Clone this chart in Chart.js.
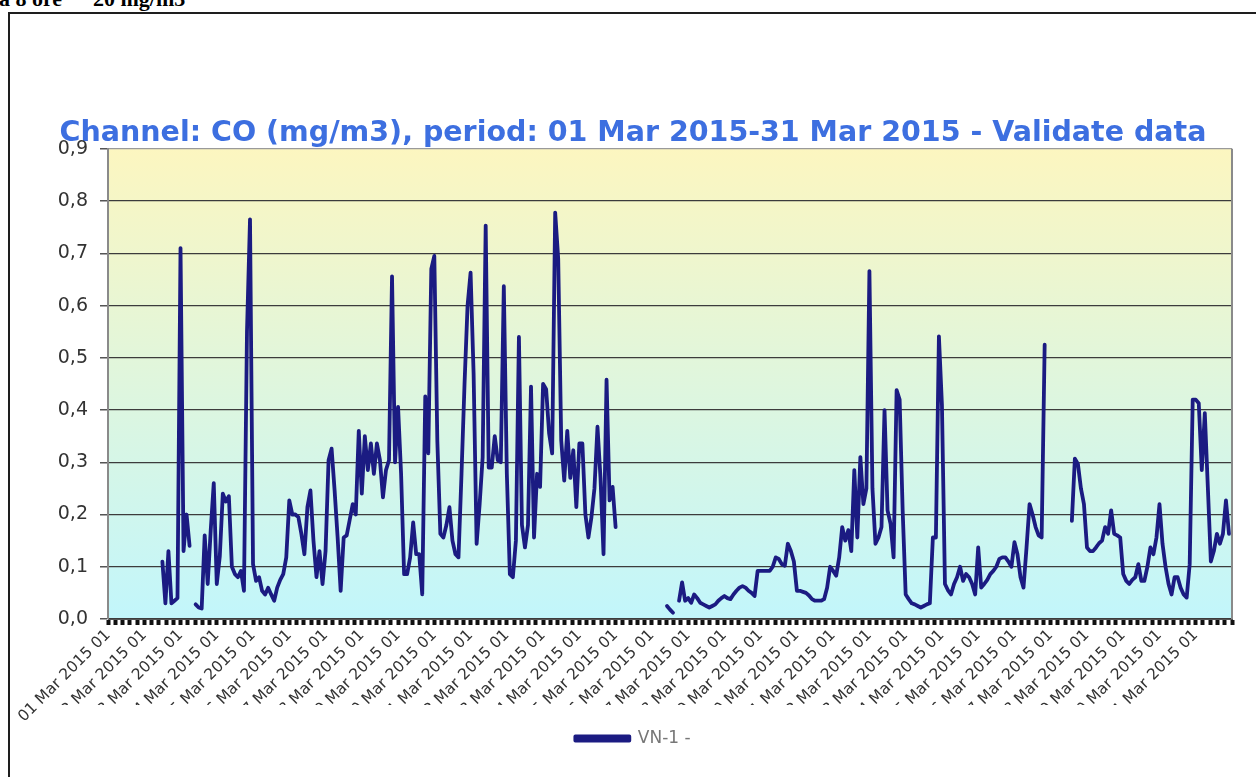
<!DOCTYPE html>
<html>
<head>
<meta charset="utf-8">
<title>CO (mg/m3) - VN-1 - Mar 2015</title>
<script src="https://cdn.jsdelivr.net/npm/chart.js@4.4.1/dist/chart.umd.min.js"></script>
<style>
  html, body { margin: 0; padding: 0; background: #fff; overflow: hidden; }
  body { width: 1256px; height: 777px; position: relative; }
  .cut { position: absolute; top: -12px; font: bold 22px "Liberation Serif", "Times New Roman", serif; line-height: 22px; color: #000; white-space: pre; }
  #frame { position: absolute; left: 8px; top: 12px; width: 1262px; height: 780px; border: 2px solid #1e1e1e; box-sizing: border-box; }
  #chart { position: absolute; left: 10px; top: 14px; }
</style>
</head>
<body>
<div class="cut" style="left:-1px">a 8 ore</div>
<div class="cut" style="left:93px">20 mg/m3</div>
<div id="frame"></div>
<canvas id="chart" width="1246" height="763"></canvas>
<script>
/* CO (mg/m3), station VN-1, 01-31 Mar 2015, validated 2-hour values */

const dayLabels = [
  '01 Mar 2015 01', '02 Mar 2015 01', '03 Mar 2015 01', '04 Mar 2015 01', '05 Mar 2015 01',
  '06 Mar 2015 01', '07 Mar 2015 01', '08 Mar 2015 01', '09 Mar 2015 01', '10 Mar 2015 01',
  '11 Mar 2015 01', '12 Mar 2015 01', '13 Mar 2015 01', '14 Mar 2015 01', '15 Mar 2015 01',
  '16 Mar 2015 01', '17 Mar 2015 01', '18 Mar 2015 01', '19 Mar 2015 01', '20 Mar 2015 01',
  '21 Mar 2015 01', '22 Mar 2015 01', '23 Mar 2015 01', '24 Mar 2015 01', '25 Mar 2015 01',
  '26 Mar 2015 01', '27 Mar 2015 01', '28 Mar 2015 01', '29 Mar 2015 01', '30 Mar 2015 01',
  '31 Mar 2015 01'
];

const seriesName = 'VN-1 -';
const stepHours = 2; // one value every 2 hours, null = no data

const coValues = [
  null, null, null, null, null, null, null, null, null, null,
  null, null, null, null, null, null, null, null, 0.11, 0.03,
  0.13, 0.03, 0.035, 0.04, 0.71, 0.13, 0.20, 0.14, null, 0.028,
  0.022, 0.02, 0.16, 0.067, 0.17, 0.26, 0.067, 0.12, 0.24, 0.225,
  0.235, 0.10, 0.086, 0.08, 0.092, 0.054, 0.55, 0.765, 0.105, 0.073,
  0.08, 0.054, 0.047, 0.06, 0.047, 0.035, 0.06, 0.075, 0.086, 0.118,
  0.227, 0.2, 0.2, 0.195, 0.163, 0.124, 0.214, 0.246, 0.15, 0.08,
  0.13, 0.067, 0.13, 0.304, 0.326, 0.246, 0.156, 0.054, 0.156, 0.16,
  0.19, 0.22, 0.2, 0.36, 0.24, 0.35, 0.285, 0.336, 0.278, 0.336,
  0.304, 0.233, 0.285, 0.304, 0.656, 0.30, 0.406, 0.278, 0.086, 0.086,
  0.118, 0.185, 0.124, 0.124, 0.047, 0.426, 0.317, 0.67, 0.695, 0.34,
  0.163, 0.156, 0.18, 0.214, 0.15, 0.124, 0.118, 0.278, 0.45, 0.6,
  0.663, 0.47, 0.144, 0.22, 0.31, 0.753, 0.29, 0.29, 0.35, 0.304,
  0.3, 0.637, 0.278, 0.086, 0.08, 0.15, 0.54, 0.18, 0.137, 0.18,
  0.445, 0.156, 0.278, 0.253, 0.45, 0.44, 0.355, 0.317, 0.778, 0.69,
  0.342, 0.265, 0.36, 0.27, 0.323, 0.214, 0.336, 0.336, 0.2, 0.156,
  0.195, 0.25, 0.368, 0.27, 0.124, 0.458, 0.227, 0.253, 0.176, null,
  null, null, null, null, null, null, null, null, null, null,
  null, null, null, null, null, 0.025, 0.018, 0.012, null, 0.035,
  0.07, 0.035, 0.04, 0.031, 0.047, 0.04, 0.031, 0.028, 0.025, 0.022,
  0.025, 0.028, 0.035, 0.04, 0.044, 0.04, 0.038, 0.047, 0.054, 0.06,
  0.063, 0.06, 0.054, 0.05, 0.044, 0.092, 0.092, 0.092, 0.092, 0.092,
  0.1, 0.118, 0.115, 0.105, 0.102, 0.144, 0.13, 0.11, 0.054, 0.054,
  0.052, 0.05, 0.045, 0.038, 0.035, 0.035, 0.035, 0.038, 0.06, 0.1,
  0.092, 0.083, 0.118, 0.176, 0.15, 0.17, 0.13, 0.285, 0.156, 0.31,
  0.22, 0.25, 0.666, 0.25, 0.144, 0.156, 0.176, 0.4, 0.208, 0.182,
  0.118, 0.438, 0.42, 0.208, 0.047, 0.038, 0.03, 0.028, 0.025, 0.022,
  0.025, 0.028, 0.03, 0.156, 0.156, 0.541, 0.41, 0.067, 0.055, 0.047,
  0.067, 0.08, 0.1, 0.073, 0.086, 0.08, 0.067, 0.047, 0.137, 0.06,
  0.067, 0.075, 0.086, 0.092, 0.1, 0.115, 0.118, 0.118, 0.11, 0.1,
  0.147, 0.124, 0.08, 0.06, 0.137, 0.22, 0.2, 0.176, 0.16, 0.156,
  0.525, null, null, null, null, null, null, null, null, 0.188,
  0.307, 0.297, 0.25, 0.22, 0.137, 0.13, 0.13, 0.137, 0.145, 0.15,
  0.176, 0.163, 0.208, 0.163, 0.16, 0.156, 0.086, 0.073, 0.067, 0.075,
  0.08, 0.105, 0.073, 0.073, 0.1, 0.137, 0.124, 0.156, 0.22, 0.144,
  0.1, 0.067, 0.047, 0.08, 0.08, 0.06, 0.047, 0.041, 0.105, 0.42,
  0.42, 0.413, 0.285, 0.394, 0.253, 0.11, 0.13, 0.163, 0.144, 0.163,
  0.227, 0.163
];

(function () {
  'use strict';

  const NAVY = '#1b1b82';
  const FONT = 'DejaVu Sans';
  const HOURS = dayLabels.length * 24;

  // band below the axis where the rotated labels are cut off
  const CLIP_TOP = 691;
  const CLIP_BOTTOM = 714;
  const CLIP_LEFT = 30;

  /* ── Helpers ───────────────────────────────────── */

  function dayTick(value) {
    const h = Math.round(value);
    if (Math.abs(value - h) > 1e-6 || h % 24 !== 0) return '';
    return dayLabels[h / 24] || '';
  }

  function commaFixed(value) {
    return value.toFixed(1).replace('.', ',');
  }

  /* ── Plot background, clipping, right border ───── */

  const plotFrame = {
    id: 'plotFrame',
    beforeDraw(chart) {
      const { ctx, chartArea: a } = chart;
      const g = ctx.createLinearGradient(0, a.top, 0, a.bottom);
      g.addColorStop(0, '#fcf6c0');
      g.addColorStop(1, '#c2f6fb');
      ctx.save();
      ctx.fillStyle = g;
      ctx.fillRect(a.left, a.top, a.right - a.left, a.bottom - a.top);
      ctx.restore();

      ctx.save();
      ctx.beginPath();
      ctx.rect(0, 0, chart.width, CLIP_TOP);
      ctx.rect(0, CLIP_BOTTOM, chart.width, chart.height - CLIP_BOTTOM);
      ctx.rect(0, CLIP_TOP, CLIP_LEFT, CLIP_BOTTOM - CLIP_TOP);
      ctx.clip();
    },
    afterDraw(chart) {
      const { ctx, chartArea: a } = chart;
      ctx.strokeStyle = '#8a8a8a';
      ctx.lineWidth = 2;
      ctx.beginPath();
      ctx.moveTo(a.right, a.top);
      ctx.lineTo(a.right, a.bottom);
      ctx.stroke();
      ctx.restore();
    }
  };

  /* ── Chart ─────────────────────────────────────── */

  const points = coValues.map((v, i) => ({ x: i * stepHours, y: v }));

  new Chart(document.getElementById('chart'), {
    type: 'line',
    data: {
      datasets: [{
        label: seriesName,
        data: points,
        borderColor: NAVY,
        backgroundColor: NAVY,
        borderWidth: 3.8,
        borderJoinStyle: 'round',
        borderCapStyle: 'round',
        pointRadius: 0,
        tension: 0,
        spanGaps: false
      }]
    },
    options: {
      responsive: false,
      animation: false,
      devicePixelRatio: 1,
      layout: { padding: { left: 24, right: 24, top: 0, bottom: 20 } },
      plugins: {
        title: {
          display: true,
          text: 'Channel: CO (mg/m3), period: 01 Mar 2015-31 Mar 2015 - Validate data',
          color: '#3d6fe0',
          font: { family: FONT, size: 28.5, weight: 'bold', lineHeight: 1.1 },
          padding: { top: 103.5, bottom: 0 }
        },
        legend: {
          position: 'bottom',
          labels: {
            boxWidth: 54,
            boxHeight: 4,
            color: '#777',
            font: { family: FONT, size: 17 },
            padding: 9
          }
        },
        tooltip: { enabled: false }
      },
      scales: {
        x: {
          type: 'linear',
          min: 0,
          max: HOURS,
          afterFit(s) { s.height = 102; },
          grid: { drawOnChartArea: false, drawTicks: true, tickLength: 6, tickWidth: 4, tickColor: '#111' },
          border: { color: '#555', width: 1 },
          ticks: {
            stepSize: 4.8,
            maxTicksLimit: 400,
            autoSkip: false,
            minRotation: 45,
            maxRotation: 45,
            padding: 1,
            color: '#333',
            font: { family: FONT, size: 15.5 },
            callback: dayTick
          }
        },
        y: {
          min: 0,
          max: 0.9,
          afterFit(s) { s.width = 74; },
          grid: {
            color: (c) => (c.tick && Math.abs(c.tick.value - 0.9) < 1e-9 ? '#9a9a9a' : '#3c3c3c'),
            lineWidth: 1.3,
            tickLength: 8,
            tickColor: '#555',
            tickWidth: 1.5
          },
          border: { color: '#8a8a8a', width: 2 },
          ticks: {
            stepSize: 0.1,
            padding: 12,
            color: '#333',
            font: { family: FONT, size: 19 },
            callback: commaFixed
          }
        }
      }
    },
    plugins: [plotFrame]
  });
})();
</script>
</body>
</html>
